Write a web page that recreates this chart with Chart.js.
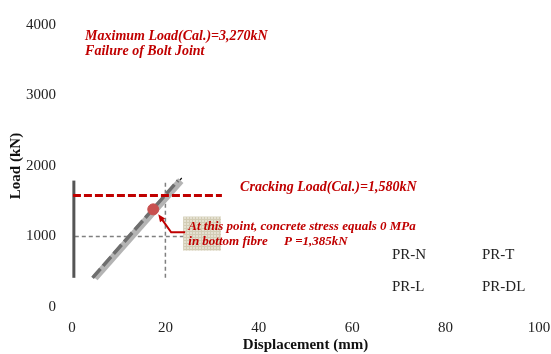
<!DOCTYPE html>
<html>
<head>
<meta charset="utf-8">
<script src="https://cdn.jsdelivr.net/npm/chart.js@4.4.1/dist/chart.umd.min.js"></script>
<style>
  html, body { margin: 0; padding: 0; background: #fff; }
  #wrap { width: 551px; height: 354px; }
</style>
</head>
<body>
<div id="wrap"><canvas id="loadChart" width="551" height="354"></canvas></div>
<script>
// load-displacement data (mm, kN)
const seriesNames = ['PR-N', 'PR-T', 'PR-L', 'PR-DL'];
const thinDisp = [5.0, 23.5];
const thinLoad = [414, 1830];
const wideDisp = [4.9, 23.3];
const wideLoad = [414, 1793];
const dashDisp = [4.4, 22.7];
const dashLoad = [414, 1793];
const axisDisp = [0.4, 0.4];
const axisLoad = [414, 1793];

// reference values
const crackLoad = 1580;
const crackDisp = [0.2, 32.1];
const zeroStressLoad = 1385;
const zeroStressDisp = 17.4;
const guideLoad = 1000;
const guideLoadDisp = [0.6, 24];
const guideDisp = 20;
const guideDispLoad = [414, 1793];

const xTicks = [0, 20, 40, 60, 80, 100];
const yTicks = [0, 1000, 2000, 3000, 4000];

const red = '#c00000';
const serif = '"Liberation Serif", "Times New Roman", serif';

const pts = (xs, ys) => xs.map((x, i) => ({ x, y: ys[i] }));

function lineSet(data, color, width, dash, order) {
    return { data, borderColor: color, borderWidth: width, borderDash: dash || [], pointRadius: 0, order, borderCapStyle: 'butt' };
}

const notes = {
    id: 'notes',
    afterDatasetsDraw(chart) {
        const { ctx, scales: { x, y } } = chart;
        ctx.save();

        // beige note box with a fine grid texture
        const bx = x.getPixelForValue(23.8), by = y.getPixelForValue(1283);
        const bw = x.getPixelForValue(31.9) - bx, bh = y.getPixelForValue(800) - by;
        const tile = document.createElement('canvas');
        tile.width = 3; tile.height = 3;
        const t = tile.getContext('2d');
        t.fillStyle = '#e4e0d0'; t.fillRect(0, 0, 3, 3);
        t.fillStyle = '#d2ccb4'; t.fillRect(0, 0, 3, 1); t.fillRect(0, 0, 1, 3);
        ctx.fillStyle = ctx.createPattern(tile, 'repeat');
        ctx.fillRect(bx, by, bw, bh);

        // arrow from the box to the zero-stress point
        const mx = x.getPixelForValue(zeroStressDisp), my = y.getPixelForValue(zeroStressLoad);
        const ay = y.getPixelForValue(1060);
        const tipX = mx + 5, tipY = my + 5;
        ctx.strokeStyle = red; ctx.lineWidth = 2;
        ctx.beginPath();
        ctx.moveTo(bx + 2, ay);
        ctx.lineTo(bx - 12, ay);
        ctx.lineTo(tipX + 3, tipY + 4);
        ctx.stroke();
        const ang = Math.atan2(tipY - ay, tipX - (bx - 12));
        ctx.fillStyle = red;
        ctx.beginPath();
        ctx.moveTo(tipX, tipY);
        ctx.lineTo(tipX - 8 * Math.cos(ang - 0.4), tipY - 8 * Math.sin(ang - 0.4));
        ctx.lineTo(tipX - 8 * Math.cos(ang + 0.4), tipY - 8 * Math.sin(ang + 0.4));
        ctx.closePath();
        ctx.fill();

        // red annotations
        ctx.fillStyle = red;
        ctx.textBaseline = 'middle';
        ctx.textAlign = 'left';
        ctx.font = 'italic bold 14px ' + serif;
        ctx.fillText('Maximum Load(Cal.)=3,270kN', x.getPixelForValue(2.8), y.getPixelForValue(3834));
        ctx.fillText('Failure of Bolt Joint', x.getPixelForValue(2.8), y.getPixelForValue(3628));
        ctx.fillText('Cracking Load(Cal.)=1,580kN', x.getPixelForValue(36), y.getPixelForValue(1697));
        ctx.font = 'italic bold 13px ' + serif;
        ctx.fillText('At this point, concrete stress equals 0 MPa', x.getPixelForValue(24.9), y.getPixelForValue(1145));
        ctx.fillText('in bottom fibre     P =1,385kN', x.getPixelForValue(24.9), y.getPixelForValue(924));

        // series names, two columns
        ctx.fillStyle = '#222';
        ctx.font = '15px ' + serif;
        seriesNames.forEach((name, i) => {
            const px = i % 2 === 0 ? 392 : 482;
            const py = i < 2 ? 255 : 287;
            ctx.fillText(name, px, py);
        });
        ctx.restore();
    }
};

new Chart(document.getElementById('loadChart'), {
    type: 'line',
    data: {
        datasets: [
            { data: [{ x: zeroStressDisp, y: zeroStressLoad }], showLine: false, pointRadius: 5.5, pointBackgroundColor: '#c8504f', pointBorderColor: '#c8504f', order: 0 },
            lineSet(pts(crackDisp, [crackLoad, crackLoad]), red, 3, [8, 3], 1),
            lineSet(pts(dashDisp, dashLoad), '#6e6e6e', 3.5, [12, 4], 2),
            lineSet(pts(wideDisp, wideLoad), '#b4b4b4', 7, null, 3),
            lineSet(pts(thinDisp, thinLoad), '#111', 1.2, null, 4),
            lineSet(pts(axisDisp, axisLoad), '#555', 3, null, 5),
            lineSet(pts(guideLoadDisp, [guideLoad, guideLoad]), '#808080', 1.5, [4, 3], 6),
            lineSet(pts([guideDisp, guideDisp], guideDispLoad), '#808080', 1.5, [4, 3], 6),
        ],
    },
    options: {
        responsive: false,
        animation: false,
        layout: { padding: { top: 17, right: 12 } },
        plugins: { legend: { display: false }, tooltip: { enabled: false } },
        scales: {
            x: {
                type: 'linear', min: 0, max: 100,
                afterBuildTicks: s => { s.ticks = xTicks.map(value => ({ value })); },
                afterFit: s => { s.height = 47; s.paddingLeft = 0; s.paddingRight = 0; },
                grid: { display: false, drawTicks: false },
                border: { display: false },
                ticks: { color: '#222', font: { family: serif, size: 15 }, padding: 12, maxRotation: 0, callback: v => String(v) },
                title: { display: true, text: 'Displacement (mm)', color: '#111', font: { family: serif, size: 15, weight: 'bold' }, padding: { top: 0, bottom: 0 } },
            },
            y: {
                type: 'linear', min: 0, max: 4000,
                afterBuildTicks: s => { s.ticks = yTicks.map(value => ({ value })); },
                afterFit: s => { s.width = 72; },
                grid: { display: false, drawTicks: false },
                border: { display: false },
                ticks: { color: '#222', font: { family: serif, size: 15 }, padding: 16, callback: v => String(v) },
                title: { display: true, text: 'Load (kN)', color: '#111', font: { family: serif, size: 15, weight: 'bold' }, padding: { top: 7, bottom: 0 } },
            },
        },
    },
    plugins: [notes],
});
</script>
</body>
</html>
